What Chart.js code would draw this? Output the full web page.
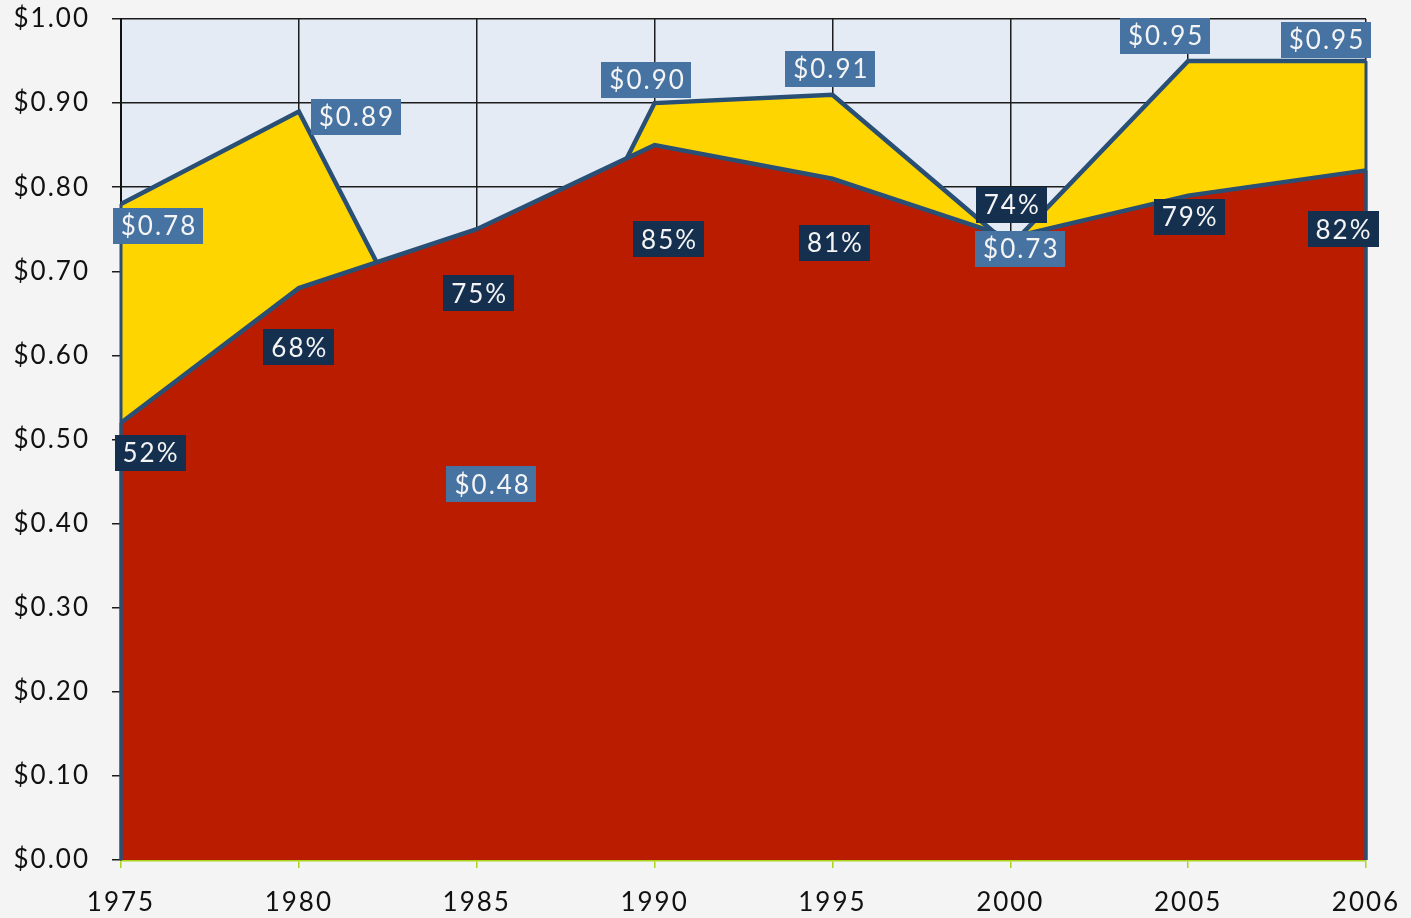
<!DOCTYPE html>
<html><head><meta charset="utf-8">
<style>html,body{margin:0;padding:0;background:#f4f4f4;overflow:hidden}#wrap{width:1411px;height:918px;position:relative}</style>
<script src="https://cdn.jsdelivr.net/npm/chart.js@4.4.1/dist/chart.umd.min.js"></script>
</head><body><div id="wrap"><canvas id="c" width="1411" height="918" style="width:1411px;height:918px"></canvas></div>
<script>
// ---- data ----
const years = ['1975','1980','1985','1990','1995','2000','2005','2006'];
const sharePct = [0.52, 0.68, 0.75, 0.85, 0.81, 0.74, 0.79, 0.82];
const dollarValue = [0.78, 0.89, 0.48, 0.90, 0.91, 0.73, 0.95, 0.95];
const yMin = 0, yMax = 1, yStep = 0.1;

// ---- label placement (layout only, offsets from point in px) ----
const dollarLabelOffsets = [[37,22],[57,5],[15,28],[-8,-23],[-2,-26],[10,3],[-23,-25],[-40,-21]];
const pctLabelOffsets = [[29,30],[0,59],[2,64],[14,94],[2,64],[1,-33],[1,21],[-23,59]];

const FONT = 'Lato';
const LINE = '#2a4f75';
const labelPlugin = {
  id: 'boxLabels',
  beforeDraw(chart) {
    const {ctx, chartArea: a} = chart;
    ctx.save();
    ctx.fillStyle = '#f4f4f4';
    ctx.fillRect(0, 0, chart.width, chart.height);
    ctx.fillStyle = '#e4ebf5';
    ctx.fillRect(a.left, a.top, a.right - a.left, a.bottom - a.top);
    ctx.restore();
    try { ctx.letterSpacing = '2px'; } catch (e) {}
  },
  afterDatasetsDraw(chart) {
    const {ctx} = chart;
    const yScale = chart.scales.y;
    const base = yScale.getPixelForValue(0);
    // close the area outlines at both ends
    ctx.save();
    ctx.strokeStyle = LINE;
    ctx.lineWidth = 3;
    [1, 0].forEach(d => {
      const pts = chart.getDatasetMeta(d).data;
      [pts[0], pts[pts.length - 1]].forEach(p => {
        ctx.beginPath(); ctx.moveTo(p.x, p.y); ctx.lineTo(p.x, base); ctx.stroke();
      });
    });
    ctx.restore();

    const specs = [
      {ds: 1, offs: dollarLabelOffsets, bg: '#4673a2', fmt: v => '$' + v.toFixed(2)},
      {ds: 0, offs: pctLabelOffsets, bg: '#152f4e', fmt: v => Math.round(v * 100) + '%'}
    ];
    ctx.save();
    ctx.font = '26px ' + FONT;
    try { ctx.letterSpacing = '2px'; } catch (e) {}
    ctx.textAlign = 'center';
    ctx.textBaseline = 'middle';
    specs.forEach(s => {
      const meta = chart.getDatasetMeta(s.ds);
      const vals = chart.data.datasets[s.ds].data;
      meta.data.forEach((pt, i) => {
        const txt = s.fmt(vals[i]);
        const cx = pt.x + s.offs[i][0], cy = pt.y + s.offs[i][1];
        const w = ctx.measureText(txt).width + 14, h = 36;
        ctx.fillStyle = s.bg;
        ctx.fillRect(Math.round(cx - w / 2), Math.round(cy - h / 2), Math.round(w), h);
        ctx.fillStyle = '#f4f4f4';
        ctx.fillText(txt, cx + 1, cy + 1);
      });
    });
    ctx.restore();
  }
};

new Chart(document.getElementById('c'), {
  type: 'line',
  data: {
    labels: years,
    datasets: [
      {label: 'share', data: sharePct, backgroundColor: '#ba1c00', borderColor: LINE, borderWidth: 4.5,
       fill: 'origin', pointRadius: 0, tension: 0},
      {label: 'value', data: dollarValue, backgroundColor: '#ffd500', borderColor: LINE, borderWidth: 4.5,
       fill: 'origin', pointRadius: 0, tension: 0}
    ]
  },
  options: {
    responsive: false,
    animation: false,
    devicePixelRatio: 1,
    layout: {padding: {top: 19, right: 45, left: 0, bottom: 0}},
    plugins: {legend: {display: false}, tooltip: {enabled: false}},
    scales: {
      x: {
        offset: false,
        grid: {color: '#1c1c1c', lineWidth: 1.5, tickColor: '#a9d41f', tickLength: 8, drawTicks: true},
        border: {color: '#a9d41f', width: 2.5},
        ticks: {color: '#111', font: {family: FONT, size: 26}, padding: 19, maxRotation: 0, autoSkip: false},
        afterFit(s) { s.height = 58; s.paddingLeft = 0; s.paddingRight = 0; }
      },
      y: {
        min: yMin, max: yMax,
        grid: {color: '#1c1c1c', lineWidth: 1.5, tickColor: '#1c1c1c', tickLength: 9},
        border: {color: '#111', width: 2},
        ticks: {stepSize: yStep, color: '#111', font: {family: FONT, size: 26}, padding: 22,
                callback: v => '$' + Number(v).toFixed(2)},
        afterFit(s) { s.width = 121; s.paddingTop = 0; s.paddingBottom = 0; }
      }
    }
  },
  plugins: [labelPlugin]
});
</script></body></html>
